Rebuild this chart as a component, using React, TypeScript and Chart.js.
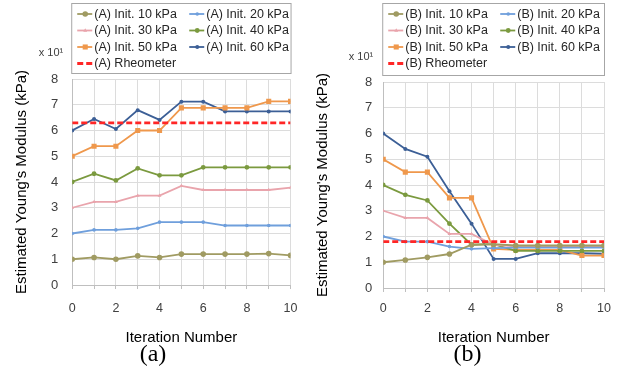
import React, { useEffect, useRef } from 'react';
import { Chart, registerables } from 'chart.js';

Chart.register(...registerables);

const iterations = [0, 1, 2, 3, 4, 5, 6, 7, 8, 9, 10];
const xTickValues = [0, 2, 4, 6, 8, 10];
const yTickValues = [0, 1, 2, 3, 4, 5, 6, 7, 8];
const seriesNames = ['Init. 10 kPa', 'Init. 20 kPa', 'Init. 30 kPa', 'Init. 40 kPa', 'Init. 50 kPa', 'Init. 60 kPa'];
const rheometerName = 'Rheometer';

const seriesA10 = [1.0, 1.07, 1.0, 1.13, 1.07, 1.2, 1.2, 1.2, 1.2, 1.22, 1.15];
const seriesA20 = [2.0, 2.14, 2.14, 2.2, 2.44, 2.44, 2.44, 2.31, 2.31, 2.31, 2.31];
const seriesA30 = [3.0, 3.23, 3.23, 3.47, 3.47, 3.85, 3.69, 3.69, 3.69, 3.69, 3.78];
const seriesA40 = [4.0, 4.32, 4.06, 4.53, 4.26, 4.26, 4.57, 4.57, 4.57, 4.57, 4.57];
const seriesA50 = [5.0, 5.39, 5.39, 6.0, 6.0, 6.88, 6.88, 6.88, 6.88, 7.13, 7.13];
const seriesA60 = [6.0, 6.45, 6.06, 6.79, 6.41, 7.12, 7.12, 6.74, 6.74, 6.74, 6.74];
const rheometerA = 6.3;

const seriesB10 = [1.0, 1.09, 1.19, 1.32, 1.68, 1.7, 1.65, 1.65, 1.65, 1.65, 1.65];
const seriesB20 = [2.0, 1.8, 1.8, 1.61, 1.52, 1.55, 1.57, 1.57, 1.57, 1.57, 1.57];
const seriesB30 = [3.0, 2.72, 2.72, 2.1, 2.1, 1.68, 1.62, 1.62, 1.62, 1.62, 1.62];
const seriesB40 = [4.0, 3.62, 3.4, 2.5, 1.68, 1.7, 1.44, 1.44, 1.44, 1.44, 1.44];
const seriesB50 = [5.0, 4.5, 4.5, 3.5, 3.5, 1.52, 1.48, 1.48, 1.48, 1.26, 1.26];
const seriesB60 = [6.0, 5.4, 5.1, 3.76, 2.5, 1.13, 1.13, 1.35, 1.35, 1.35, 1.33];
const rheometerB = 1.8;

const colors = ['#a09b62', '#6f9fdc', '#e9a4ac', '#7b9a3f', '#ef984c', '#3c5f96'];
const markerStyles = ['circle', 'circle', 'triangle', 'circle', 'rect', 'circle'];
const markerRadius = [2.8, 1.8, 2.2, 2.4, 3.6, 2.0];
const rheometerColor = '#ff2626';

const FONT = 'Liberation Sans';

function drawMarker(ctx: CanvasRenderingContext2D, style: string, x: number, y: number, r: number, color: string) {
  ctx.save();
  ctx.fillStyle = color;
  ctx.setLineDash([]);
  ctx.beginPath();
  if (style === 'rect') {
    const s = r * Math.SQRT1_2;
    ctx.rect(x - s, y - s, 2 * s, 2 * s);
  } else if (style === 'triangle') {
    ctx.moveTo(x, y - r);
    ctx.lineTo(x + r * 0.9, y + r * 0.6);
    ctx.lineTo(x - r * 0.9, y + r * 0.6);
    ctx.closePath();
  } else {
    ctx.arc(x, y, r, 0, Math.PI * 2);
  }
  ctx.fill();
  ctx.restore();
}

const boxLegend = {
  id: 'boxLegend',
  afterDraw(chart: any, _args: any, opts: any) {
    const { ctx, chartArea } = chart;
    const left = chartArea.left - 1;
    const right = chartArea.right;
    const top = 3;
    const bottom = chartArea.top - opts.gap;
    ctx.save();
    ctx.strokeStyle = '#a6a6a6';
    ctx.lineWidth = 1;
    ctx.setLineDash([]);
    ctx.strokeRect(left + 0.5, top + 0.5, right - left, bottom - top);
    ctx.font = `12.5px ${FONT}`;
    ctx.textBaseline = 'middle';
    ctx.textAlign = 'left';
    chart.data.datasets.forEach((ds: any, i: number) => {
      const col = i % 2;
      const row = Math.floor(i / 2);
      const x0 = left + 6 + col * 112;
      const y = top + 11 + row * 16.5;
      ctx.save();
      ctx.strokeStyle = ds.borderColor;
      ctx.lineWidth = ds.borderWidth;
      ctx.setLineDash(ds.borderDash ? [6, 3] : []);
      ctx.beginPath();
      ctx.moveTo(x0, y);
      ctx.lineTo(x0 + 15, y);
      ctx.stroke();
      ctx.restore();
      if (ds.pointRadius > 0) {
        drawMarker(ctx, ds.pointStyle, x0 + 8, y, ds.pointRadius, ds.borderColor);
      }
      ctx.fillStyle = '#262626';
      ctx.fillText(ds.label, x0 + 17, y + 0.5);
    });
    // axis multiplier
    ctx.font = `11px ${FONT}`;
    ctx.textAlign = 'right';
    ctx.fillStyle = '#404040';
    ctx.fillText('x 10\u00B9', chartArea.left - opts.multDx, chartArea.top - opts.multDy);
    // panel tag
    ctx.font = `24px 'Liberation Serif'`;
    ctx.textAlign = 'center';
    ctx.fillStyle = '#000';
    ctx.fillText(opts.tag, chart.width / 2 + opts.tagDx, 355);
    ctx.restore();
  },
};

type PanelProps = {
  prefix: string;
  tag: string;
  series: number[][];
  rheometer: number;
  width: number;
  padTop: number;
  tickPad: number;
  titlePad: number;
  yTickPad: number;
  yTitlePad: { top: number; bottom: number };
  gap: number;
  multDx: number;
  multDy: number;
  tagDx: number;
};

function Panel(p: PanelProps) {
  const ref = useRef<HTMLCanvasElement | null>(null);
  useEffect(() => {
    if (!ref.current) return;
    const datasets: any[] = p.series.map((vals, i) => ({
      label: `${p.prefix} ${seriesNames[i]}`,
      data: iterations.map((x, j) => ({ x, y: vals[j] })),
      borderColor: colors[i],
      backgroundColor: colors[i],
      borderWidth: 1.8,
      pointStyle: markerStyles[i],
      pointRadius: markerRadius[i],
      pointBorderWidth: 0,
      pointBackgroundColor: colors[i],
      tension: 0,
      order: 1,
    }));
    datasets.push({
      label: `${p.prefix} ${rheometerName}`,
      data: iterations.map((x) => ({ x, y: p.rheometer })),
      borderColor: rheometerColor,
      backgroundColor: rheometerColor,
      borderWidth: 2.8,
      borderDash: [6, 3],
      pointRadius: 0,
      order: 0,
    });
    const chart = new Chart(ref.current, {
      type: 'line',
      data: { datasets },
      plugins: [boxLegend],
      options: {
        animation: false,
        responsive: false,
        layout: { padding: { top: p.padTop, right: 17, left: 0, bottom: 19 } },
        plugins: {
          legend: { display: false },
          tooltip: { enabled: false },
          title: { display: false },
          boxLegend: { gap: p.gap, multDx: p.multDx, multDy: p.multDy, tag: p.tag, tagDx: p.tagDx },
        } as any,
        scales: {
          x: {
            type: 'linear',
            min: 0,
            max: 10,
            ticks: {
              stepSize: 1,
              autoSkip: false,
              maxRotation: 0,
              padding: p.tickPad,
              color: '#404040',
              font: { family: FONT, size: 12.5 },
              callback: (v: any) => (xTickValues.includes(Number(v)) ? String(v) : ''),
            },
            grid: { color: '#dcdcdc', tickLength: 4, tickColor: '#bfbfbf' },
            border: { color: '#bfbfbf' },
            title: {
              display: true,
              text: 'Iteration Number',
              color: '#000',
              font: { family: FONT, size: 15, lineHeight: 1 },
              padding: { top: p.titlePad, bottom: 2 },
            },
          },
          y: {
            min: 0,
            max: 8,
            afterBuildTicks: (axis: any) => {
              axis.ticks = yTickValues.map((v) => ({ value: v }));
            },
            ticks: {
              padding: p.yTickPad,
              color: '#404040',
              font: { family: FONT, size: 13 },
            },
            grid: { color: '#dcdcdc', drawTicks: false },
            border: { color: '#bfbfbf' },
            title: {
              display: true,
              text: "Estimated Young's Modulus (kPa)",
              color: '#000',
              font: { family: FONT, size: 15, lineHeight: 1.2 },
              padding: p.yTitlePad,
            },
          },
        },
      } as any,
    });
    return () => chart.destroy();
  }, []);
  return <canvas ref={ref} width={p.width} height={366} style={{ display: 'block', width: p.width, height: 366 }} />;
}

export default function App() {
  return (
    <div style={{ position: 'absolute', left: 0, top: 0, width: 621, height: 366, background: '#fff', display: 'flex' }}>
      <Panel
        prefix="(A)"
        tag="(a)"
        series={[seriesA10, seriesA20, seriesA30, seriesA40, seriesA50, seriesA60]}
        rheometer={rheometerA}
        width={310}
        padTop={79}
        tickPad={12.5}
        titlePad={1}
        yTickPad={14}
        yTitlePad={{ top: 13, bottom: 6 }}
        gap={6}
        multDx={9}
        multDy={26}
        tagDx={-2}
      />
      <Panel
        prefix="(B)"
        tag="(b)"
        series={[seriesB10, seriesB20, seriesB30, seriesB40, seriesB50, seriesB60]}
        rheometer={rheometerB}
        width={311}
        padTop={82}
        tickPad={9.5}
        titlePad={4}
        yTickPad={11}
        yTitlePad={{ top: 4, bottom: 22 }}
        gap={7}
        multDx={10}
        multDy={25}
        tagDx={2}
      />
    </div>
  );
}
